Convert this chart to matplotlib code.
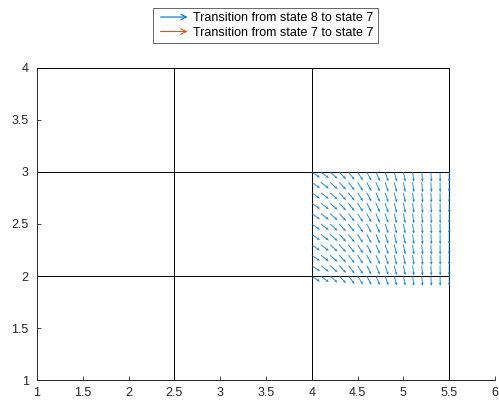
import numpy as np
import matplotlib
matplotlib.use("Agg")
import matplotlib.pyplot as plt
from matplotlib.lines import Line2D
from matplotlib.patches import FancyArrowPatch
from matplotlib.legend_handler import HandlerBase

plt.rcParams["font.family"] = ["Liberation Sans", "DejaVu Sans"]

# grid cell boundaries
x_edges = [1, 2.5, 4, 5.5]
y_edges = [1, 2, 3, 4]

# quiver sample points
x_pts = [4.0, 4.1, 4.2, 4.3, 4.4, 4.5, 4.6, 4.7, 4.8, 4.9, 5.0, 5.1, 5.2, 5.3, 5.4, 5.5]
y_pts = [2.0, 2.1, 2.2, 2.3, 2.4, 2.5, 2.6, 2.7, 2.8, 2.9, 3.0]
# per-column vector components (same for every row)
u_col = [0.089, 0.086, 0.081, 0.074, 0.067, 0.059, 0.051, 0.043, 0.036, 0.028,
         0.021, 0.015, 0.010, 0.006, 0.002, 0.000]
v_col = [-0.055, -0.059, -0.064, -0.070, -0.076, -0.081, -0.085, -0.088, -0.091,
         -0.093, -0.094, -0.095, -0.096, -0.096, -0.096, -0.096]

labels = ["Transition from state 8 to state 7", "Transition from state 7 to state 7"]
colors = ["#0072BD", "#D95319"]

fig = plt.figure(figsize=(4.99, 4.07), dpi=100)
ax = fig.add_axes([0.0741, 0.0663, 0.9179, 0.7667])

X, Y = np.meshgrid(x_pts, y_pts)
U = np.tile(u_col, (len(y_pts), 1))
V = np.tile(v_col, (len(y_pts), 1))
ax.quiver(X, Y, U, V, color=colors[0], alpha=0.85, angles="xy", scale_units="xy", scale=1,
          width=0.002, headwidth=3.0, headlength=3.6, headaxislength=3.2, zorder=3)

# grid lines of the state cells
for xe in x_edges[1:]:
    ax.plot([xe, xe], [y_edges[0], y_edges[-1]], color="black", lw=0.7, zorder=2)
for ye in y_edges[1:]:
    ax.plot([x_edges[0], x_edges[-1]], [ye, ye], color="black", lw=0.7, zorder=2)

ax.set_xlim(1, 6)
ax.set_ylim(1, 4)
ax.set_xticks(np.arange(1, 6.01, 0.5))
ax.set_yticks(np.arange(1, 4.01, 0.5))
ax.set_xticklabels(["1", "1.5", "2", "2.5", "3", "3.5", "4", "4.5", "5", "5.5", "6"])
ax.set_yticklabels(["1", "1.5", "2", "2.5", "3", "3.5", "4"])
for s in ["top", "right"]:
    ax.spines[s].set_visible(False)
for s in ["left", "bottom"]:
    ax.spines[s].set_color("0.15")
    ax.spines[s].set_linewidth(0.7)
ax.tick_params(direction="in", length=3, width=0.6, colors="0.15", labelsize=9)
ax.tick_params(axis="x", pad=5)
ax.tick_params(axis="y", pad=6)


class ArrowHandler(HandlerBase):
    def create_artists(self, legend, orig_handle, xdescent, ydescent, width, height,
                       fontsize, trans):
        y = height / 2 - ydescent
        a = FancyArrowPatch((-xdescent, y), (-xdescent + width, y),
                            arrowstyle="->,head_length=4,head_width=2",
                            mutation_scale=1, color=orig_handle.get_color(),
                            lw=0.8, transform=trans)
        return [a]


handles = [Line2D([], [], color=c) for c in colors]
leg = fig.legend(handles, labels, loc="center", bbox_to_anchor=(0.532, 0.937),
                 handler_map={Line2D: ArrowHandler()}, fontsize=9, fancybox=False,
                 edgecolor="0.3", framealpha=1, handlelength=2.6, handletextpad=0.2,
                 borderpad=0.35, labelspacing=0.2, borderaxespad=0)
leg.get_frame().set_linewidth(0.6)

fig.savefig("out.png", dpi=100)
